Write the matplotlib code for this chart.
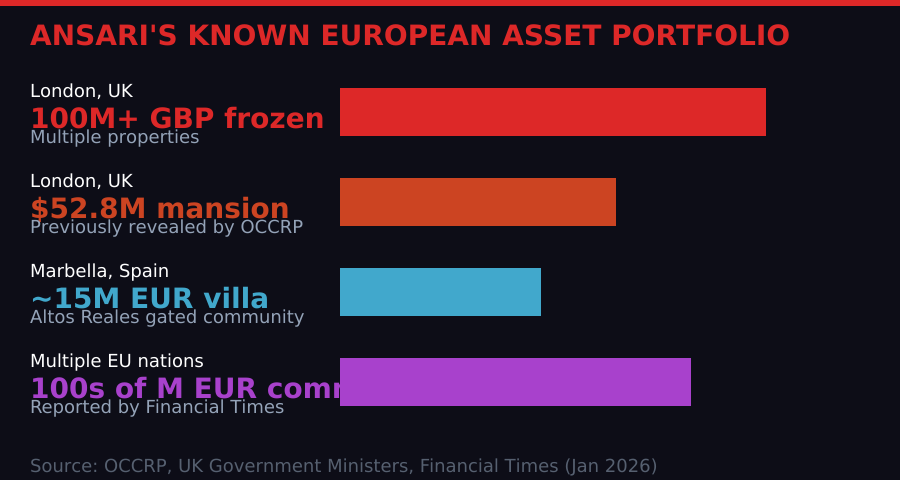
import matplotlib
matplotlib.use("Agg")
import matplotlib.pyplot as plt
from matplotlib.patches import Rectangle

title = "ANSARI'S KNOWN EUROPEAN ASSET PORTFOLIO"
source = "Source: OCCRP, UK Government Ministers, Financial Times (Jan 2026)"
locations = ["London, UK", "London, UK", "Marbella, Spain", "Multiple EU nations"]
headlines = ["100M+ GBP frozen", "$52.8M mansion", "~15M EUR villa", "100s of M EUR commercial"]
details = ["Multiple properties", "Previously revealed by OCCRP", "Altos Reales gated community", "Reported by Financial Times"]
values = [85, 55, 40, 70]
colors = ["#dd2828", "#cc4422", "#41a8cc", "#a841cc"]

W, H = 900, 480
bg = "#0d0d17"
plt.rcParams["font.family"] = "DejaVu Sans"
plt.rcParams["text.hinting"] = "no_hinting"
plt.rcParams["text.hinting_factor"] = 1
fig = plt.figure(figsize=(9, 4.8), dpi=100, facecolor=bg)
page = fig.add_axes([0, 0, 1, 1])
page.set_xlim(0, W); page.set_ylim(H, 0); page.axis("off")
page.add_patch(Rectangle((0, 0), W, 6, color=colors[0], lw=0))
page.text(30, 46, title, color=colors[0], fontsize=20.16, fontweight="bold", va="baseline", ha="left")

rows = list(range(len(values)))
for i in rows:
    y0 = 90 * i
    page.text(30, 97 + y0, locations[i], color="white", fontsize=12.96, va="baseline")
    page.text(30, 128 + y0, headlines[i], color=colors[i], fontsize=20.16, fontweight="bold", va="baseline")
    page.text(30, 143 + y0, details[i], color="#94a3b8", fontsize=12.93, va="baseline")
page.text(30, 472, source, color="#566070", fontsize=12.92, va="baseline")

ax = fig.add_axes([340 / W, 0, 501.5 / W, 1])
ax.patch.set_alpha(0)
ax.set_xlim(0, 100)
ax.set_ylim(H, 0)
ax.axis("off")
ax.barh([112 + 90 * i for i in rows], values, height=48, color=colors)
fig.savefig("out.png", dpi=100, facecolor=bg)
